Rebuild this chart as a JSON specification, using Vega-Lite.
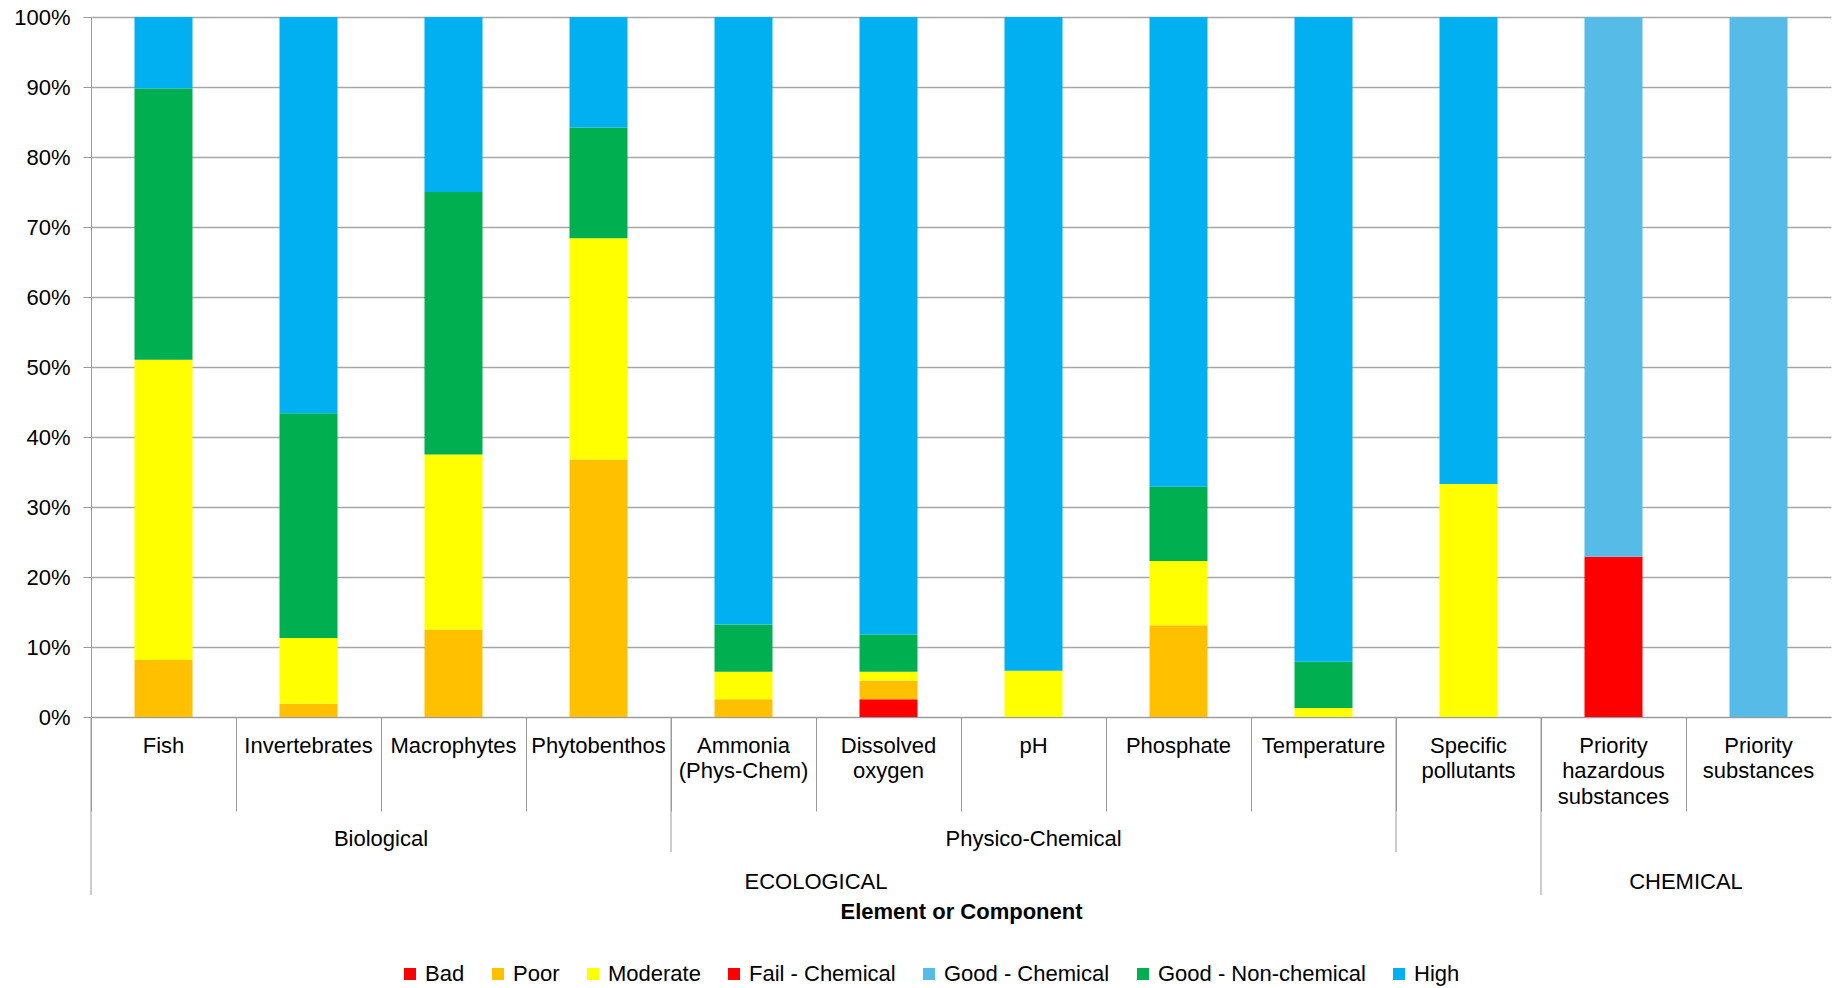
{
  "$schema": "https://vega.github.io/schema/vega-lite/v6.json",
  "width": 1740,
  "height": 700,
  "autosize": {"type": "none"},
  "padding": {"left": 91, "top": 17, "right": 3, "bottom": 271},
  "background": "white",
  "config": {
    "font": "Liberation Sans",
    "view": {"stroke": null},
    "text": {"font": "Liberation Sans"}
  },
  "datasets": {
    "status": [
      {"element": "Fish", "status": "Poor", "pct": 8.16},
      {"element": "Fish", "status": "Moderate", "pct": 42.86},
      {"element": "Fish", "status": "Good - Non-chemical", "pct": 38.78},
      {"element": "Fish", "status": "High", "pct": 10.2},
      {"element": "Invertebrates", "status": "Poor", "pct": 1.9},
      {"element": "Invertebrates", "status": "Moderate", "pct": 9.4},
      {"element": "Invertebrates", "status": "Good - Non-chemical", "pct": 32.1},
      {"element": "Invertebrates", "status": "High", "pct": 56.6},
      {"element": "Macrophytes", "status": "Poor", "pct": 12.5},
      {"element": "Macrophytes", "status": "Moderate", "pct": 25},
      {"element": "Macrophytes", "status": "Good - Non-chemical", "pct": 37.5},
      {"element": "Macrophytes", "status": "High", "pct": 25},
      {"element": "Phytobenthos", "status": "Poor", "pct": 36.8},
      {"element": "Phytobenthos", "status": "Moderate", "pct": 31.6},
      {"element": "Phytobenthos", "status": "Good - Non-chemical", "pct": 15.8},
      {"element": "Phytobenthos", "status": "High", "pct": 15.8},
      {"element": "Ammonia (Phys-Chem)", "status": "Poor", "pct": 2.55},
      {"element": "Ammonia (Phys-Chem)", "status": "Moderate", "pct": 3.9},
      {"element": "Ammonia (Phys-Chem)", "status": "Good - Non-chemical", "pct": 6.75},
      {"element": "Ammonia (Phys-Chem)", "status": "High", "pct": 86.8},
      {"element": "Dissolved oxygen", "status": "Bad", "pct": 2.55},
      {"element": "Dissolved oxygen", "status": "Poor", "pct": 2.65},
      {"element": "Dissolved oxygen", "status": "Moderate", "pct": 1.25},
      {"element": "Dissolved oxygen", "status": "Good - Non-chemical", "pct": 5.35},
      {"element": "Dissolved oxygen", "status": "High", "pct": 88.2},
      {"element": "pH", "status": "Moderate", "pct": 6.6},
      {"element": "pH", "status": "High", "pct": 93.4},
      {"element": "Phosphate", "status": "Poor", "pct": 13.1},
      {"element": "Phosphate", "status": "Moderate", "pct": 9.2},
      {"element": "Phosphate", "status": "Good - Non-chemical", "pct": 10.6},
      {"element": "Phosphate", "status": "High", "pct": 67.1},
      {"element": "Temperature", "status": "Moderate", "pct": 1.3},
      {"element": "Temperature", "status": "Good - Non-chemical", "pct": 6.6},
      {"element": "Temperature", "status": "High", "pct": 92.1},
      {"element": "Specific pollutants", "status": "Moderate", "pct": 33.3},
      {"element": "Specific pollutants", "status": "High", "pct": 66.7},
      {"element": "Priority hazardous substances", "status": "Fail - Chemical", "pct": 22.9},
      {"element": "Priority hazardous substances", "status": "Good - Chemical", "pct": 77.1},
      {"element": "Priority substances", "status": "Good - Chemical", "pct": 100}
    ],
    "groups": [
      {"element": "Macrophytes", "group": "Biological", "level": "Group", "span": "even"},
      {"element": "pH", "group": "Physico-Chemical", "level": "Group", "span": "odd"},
      {"element": "Dissolved oxygen", "group": "ECOLOGICAL", "level": "Component", "span": "even"},
      {"element": "Priority substances", "group": "CHEMICAL", "level": "Component", "span": "even"}
    ],
    "seps": [
      {"element": "Ammonia (Phys-Chem)", "level": "Group"},
      {"element": "Specific pollutants", "level": "Group"},
      {"element": "Fish", "level": "Component"},
      {"element": "Priority hazardous substances", "level": "Component"}
    ]
  },
  "layer": [
    {
      "data": {"name": "status"},
      "transform": [
        {"calculate": "indexof(['Bad', 'Poor', 'Moderate', 'Fail - Chemical', 'Good - Chemical', 'Good - Non-chemical', 'High'], datum.status)", "as": "stackRank"}
      ],
      "mark": {"type": "bar", "width": {"band": 0.4}},
      "encoding": {
        "x": {
          "field": "element",
          "type": "nominal",
          "scale": {
            "domain": ["Fish", "Invertebrates", "Macrophytes", "Phytobenthos", "Ammonia (Phys-Chem)", "Dissolved oxygen", "pH", "Phosphate", "Temperature", "Specific pollutants", "Priority hazardous substances", "Priority substances"],
            "paddingInner": 0,
            "paddingOuter": 0
          },
          "axis": {
            "title": "Element or Component",
            "titleFontSize": 22,
            "titleFontWeight": "bold",
            "titleColor": "black",
            "titlePadding": 90,
            "labelAngle": 0,
            "labelFontSize": 22,
            "labelColor": "black",
            "labelExpr": "split(datum.label, ' ')",
            "labelLineHeight": 25.5,
            "labelBaseline": "top",
            "labelPadding": -76,
            "labelLimit": 0,
            "labelOverlap": false,
            "labelFlush": false,
            "bandPosition": 0,
            "ticks": true,
            "tickSize": 94,
            "tickColor": "#9a9a9a",
            "tickWidth": 1,
            "domainColor": "#9a9a9a",
            "domainWidth": 1,
            "grid": false
          }
        },
        "y": {
          "field": "pct",
          "type": "quantitative",
          "stack": true,
          "scale": {"domain": [0, 100], "nice": false},
          "axis": {
            "title": null,
            "values": [0, 10, 20, 30, 40, 50, 60, 70, 80, 90, 100],
            "labelExpr": "datum.value + '%'",
            "labelFontSize": 22,
            "labelColor": "black",
            "labelPadding": 13,
            "tickSize": 8,
            "tickColor": "#9a9a9a",
            "domainColor": "#9a9a9a",
            "grid": true,
            "gridColor": "#a6a6a6",
            "gridWidth": 1.3
          }
        },
        "order": {"field": "stackRank", "type": "quantitative", "sort": "ascending"},
        "color": {
          "field": "status",
          "type": "nominal",
          "sort": ["Bad", "Poor", "Moderate", "Fail - Chemical", "Good - Chemical", "Good - Non-chemical", "High"],
          "scale": {
            "domain": ["Bad", "Poor", "Moderate", "Fail - Chemical", "Good - Chemical", "Good - Non-chemical", "High"],
            "range": ["#ff0000", "#ffc000", "#ffff00", "#ff0000", "#56bbe6", "#00b050", "#00b0f0"]
          },
          "legend": {
            "orient": "none",
            "legendX": 308,
            "legendY": 946,
            "direction": "horizontal",
            "title": null,
            "padding": 0,
            "symbolType": "square",
            "symbolSize": 144,
            "symbolStrokeWidth": 0,
            "labelFontSize": 22,
            "labelColor": "black",
            "labelOffset": 4,
            "labelLimit": 0,
            "columnPadding": 22
          }
        }
      }
    },
    {
      "data": {"name": "seps"},
      "transform": [{"filter": "datum.level == 'Group'"}],
      "mark": {"type": "rule", "color": "#9a9a9a", "strokeWidth": 1},
      "encoding": {
        "x": {"field": "element", "type": "nominal", "bandPosition": 0},
        "y": {"datum": 0, "type": "quantitative"},
        "y2": {"datum": -19.3}
      }
    },
    {
      "data": {"name": "seps"},
      "transform": [{"filter": "datum.level == 'Component'"}],
      "mark": {"type": "rule", "color": "#9a9a9a", "strokeWidth": 1},
      "encoding": {
        "x": {"field": "element", "type": "nominal", "bandPosition": 0},
        "y": {"datum": 0, "type": "quantitative"},
        "y2": {"datum": -25.4}
      }
    },
    {
      "data": {"name": "groups"},
      "transform": [{"filter": "datum.level == 'Group' && datum.span == 'even'"}],
      "mark": {"type": "text", "fontSize": 22, "color": "black", "align": "center", "baseline": "middle"},
      "encoding": {
        "x": {"field": "element", "type": "nominal", "bandPosition": 0},
        "y": {"datum": -17.4, "type": "quantitative"},
        "text": {"field": "group"}
      }
    },
    {
      "data": {"name": "groups"},
      "transform": [{"filter": "datum.level == 'Group' && datum.span == 'odd'"}],
      "mark": {"type": "text", "fontSize": 22, "color": "black", "align": "center", "baseline": "middle"},
      "encoding": {
        "x": {"field": "element", "type": "nominal", "bandPosition": 0.5},
        "y": {"datum": -17.4, "type": "quantitative"},
        "text": {"field": "group"}
      }
    },
    {
      "data": {"name": "groups"},
      "transform": [{"filter": "datum.level == 'Component'"}],
      "mark": {"type": "text", "fontSize": 22, "color": "black", "align": "center", "baseline": "middle"},
      "encoding": {
        "x": {"field": "element", "type": "nominal", "bandPosition": 0},
        "y": {"datum": -23.5, "type": "quantitative"},
        "text": {"field": "group"}
      }
    }
  ]
}
